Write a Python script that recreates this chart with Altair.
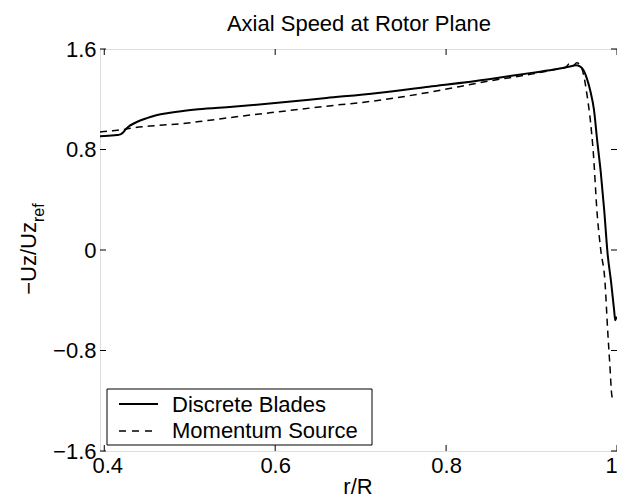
import altair as alt
import pandas as pd

# ---------------- data ----------------
series_names = ["Discrete Blades", "Momentum Source"]

r_blades = [0.395, 0.405, 0.415, 0.419, 0.422, 0.425, 0.429, 0.434, 0.440, 0.450,
            0.462, 0.475, 0.490, 0.510, 0.550, 0.600, 0.660, 0.720, 0.780, 0.850,
            0.900, 0.930, 0.945, 0.952, 0.957, 0.961, 0.965, 0.969, 0.973, 0.977,
            0.981, 0.985, 0.989, 0.993, 0.9965, 0.998, 0.9995]
u_blades = [0.905, 0.91, 0.915, 0.92, 0.935, 0.96, 0.985, 1.005, 1.025, 1.05,
            1.075, 1.09, 1.105, 1.12, 1.14, 1.17, 1.21, 1.25, 1.30, 1.36,
            1.41, 1.44, 1.46, 1.47, 1.46, 1.43, 1.36, 1.26, 1.12, 0.86,
            0.62, 0.32, -0.03, -0.25, -0.47, -0.56, -0.53]

r_momentum = [0.395, 0.41, 0.425, 0.436, 0.46, 0.49, 0.52, 0.56, 0.61, 0.66,
              0.72, 0.78, 0.85, 0.90, 0.93, 0.940, 0.944, 0.948, 0.953, 0.957,
              0.960, 0.965, 0.969, 0.972, 0.977, 0.981, 0.986, 0.989, 0.9915, 0.994,
              0.995]
u_momentum = [0.94, 0.95, 0.962, 0.975, 0.99, 1.005, 1.03, 1.065, 1.105, 1.145,
              1.19, 1.255, 1.345, 1.40, 1.44, 1.455, 1.48, 1.465, 1.49, 1.47,
              1.42, 1.23, 1.02, 0.80, 0.27, 0.0, -0.26, -0.63, -0.90, -1.16,
              -1.18]

x_ticks = [0.4, 0.6, 0.8, 1.0]
y_ticks = [-1.6, -0.8, 0.0, 0.8, 1.6]

title_text = "Axial Speed at Rotor Plane"
x_title = "r/R"
y_title_main = "\u2212Uz/Uz"
y_title_sub = "ref"

# ---------------- layout constants ----------------
W, H = 517, 402
FONT = "Liberation Sans"
FS = 22

df_b = pd.DataFrame({"r": r_blades, "u": u_blades, "series": series_names[0]})
df_m = pd.DataFrame({"r": r_momentum, "u": u_momentum, "series": series_names[1]})
df_xt = pd.DataFrame({"v": x_ticks})
df_yt = pd.DataFrame({"v": y_ticks})

xscale = alt.Scale(domain=[0.395, 1.0], nice=False, zero=False)
yscale = alt.Scale(domain=[-1.6, 1.6], nice=False, zero=False)

xaxis = alt.Axis(values=x_ticks, format=".1~f", title=None, ticks=False, domain=False,
                 grid=False, labelFontSize=FS, labelFont=FONT, labelColor="black",
                 labelPadding=4, labelFlush=False, labelOverlap=False,
                 labelOffset={"expr": "datum.value >= 0.99 ? -6 : (datum.value <= 0.41 ? 3 : 0)"})
yaxis = alt.Axis(values=y_ticks, format=".1~f", title=None, ticks=False, domain=False,
                 grid=False, labelFontSize=FS, labelFont=FONT, labelColor="black",
                 labelPadding=4, labelFlush=False, labelOverlap=False)


def X(field):
    return alt.X(field, type="quantitative", scale=xscale, axis=xaxis)


def Y(field):
    return alt.Y(field, type="quantitative", scale=yscale, axis=yaxis)


line_b = alt.Chart(df_b).mark_line(color="black", strokeWidth=2, interpolate="monotone",
                                   clip=True).encode(x=X("r"), y=Y("u"))
line_m = alt.Chart(df_m).mark_line(color="black", strokeWidth=1.5, strokeDash=[7, 5],
                                   interpolate="monotone", clip=True).encode(x=X("r"), y=Y("u"))

# inward ticks on all four sides
tick_len = 6
xt_bot = alt.Chart(df_xt).mark_rule(color="black", strokeWidth=1).encode(
    x=X("v"), y=alt.value(H), y2=alt.value(H - tick_len))
xt_top = alt.Chart(df_xt).mark_rule(color="black", strokeWidth=1).encode(
    x=X("v"), y=alt.value(0), y2=alt.value(tick_len))
yt_left = alt.Chart(df_yt).mark_rule(color="black", strokeWidth=1).encode(
    y=Y("v"), x=alt.value(0), x2=alt.value(tick_len))
yt_right = alt.Chart(df_yt).mark_rule(color="black", strokeWidth=1).encode(
    y=Y("v"), x=alt.value(W), x2=alt.value(W - tick_len))

# titles as text
df_title = pd.DataFrame({"t": [title_text]})
title = alt.Chart(df_title).mark_text(font=FONT, fontSize=FS, color="black", align="center",
                                      baseline="alphabetic").encode(
    text="t:N", x=alt.value(259), y=alt.value(-18))

df_xtitle = pd.DataFrame({"t": [x_title]})
xtitle = alt.Chart(df_xtitle).mark_text(font=FONT, fontSize=FS, color="black", align="center",
                                        baseline="alphabetic").encode(
    text="t:N", x=alt.value(258), y=alt.value(445))

df_ym = pd.DataFrame({"t": [y_title_main]})
ytitle_main = alt.Chart(df_ym).mark_text(font=FONT, fontSize=FS, color="black", align="right",
                                         baseline="alphabetic", angle=270).encode(
    text="t:N", x=alt.value(-64), y=alt.value(173))
df_ys = pd.DataFrame({"t": [y_title_sub]})
ytitle_sub = alt.Chart(df_ys).mark_text(font=FONT, fontSize=16, color="black", align="left",
                                        baseline="alphabetic", angle=270).encode(
    text="t:N", x=alt.value(-56), y=alt.value(173))

# legend (drawn manually)
df_leg = pd.DataFrame({"s": [series_names[0]]})
leg_box = alt.Chart(df_leg).mark_rect(fill="white", stroke="black", strokeWidth=1).encode(
    x=alt.value(7), x2=alt.value(272), y=alt.value(340), y2=alt.value(396))
leg_line_b = alt.Chart(df_leg).mark_rule(color="black", strokeWidth=2).encode(
    x=alt.value(19), x2=alt.value(58), y=alt.value(355))
df_leg2 = pd.DataFrame({"s": [series_names[1]]})
leg_line_m = alt.Chart(df_leg2).mark_rule(color="black", strokeWidth=1.5, strokeDash=[7, 6]).encode(
    x=alt.value(19), x2=alt.value(58), y=alt.value(382))
leg_text_b = alt.Chart(df_leg).mark_text(font=FONT, fontSize=FS, color="black", align="left",
                                         baseline="middle").encode(
    text="s:N", x=alt.value(72), y=alt.value(356))
leg_text_m = alt.Chart(df_leg2).mark_text(font=FONT, fontSize=FS, color="black", align="left",
                                          baseline="middle").encode(
    text="s:N", x=alt.value(72), y=alt.value(382))

chart = alt.layer(
    line_m, line_b, xt_bot, xt_top, yt_left, yt_right,
    leg_box, leg_line_b, leg_line_m, leg_text_b, leg_text_m,
    title, xtitle, ytitle_main, ytitle_sub,
).properties(
    width=W, height=H,
    autosize=alt.AutoSizeParams(type="none"),
    padding={"left": 92, "top": 41, "right": 0, "bottom": 52},
).configure_view(
    stroke="black", strokeWidth=1
).configure(background="white")

chart.save("out.html", embed_options={"renderer": "svg", "actions": False})
